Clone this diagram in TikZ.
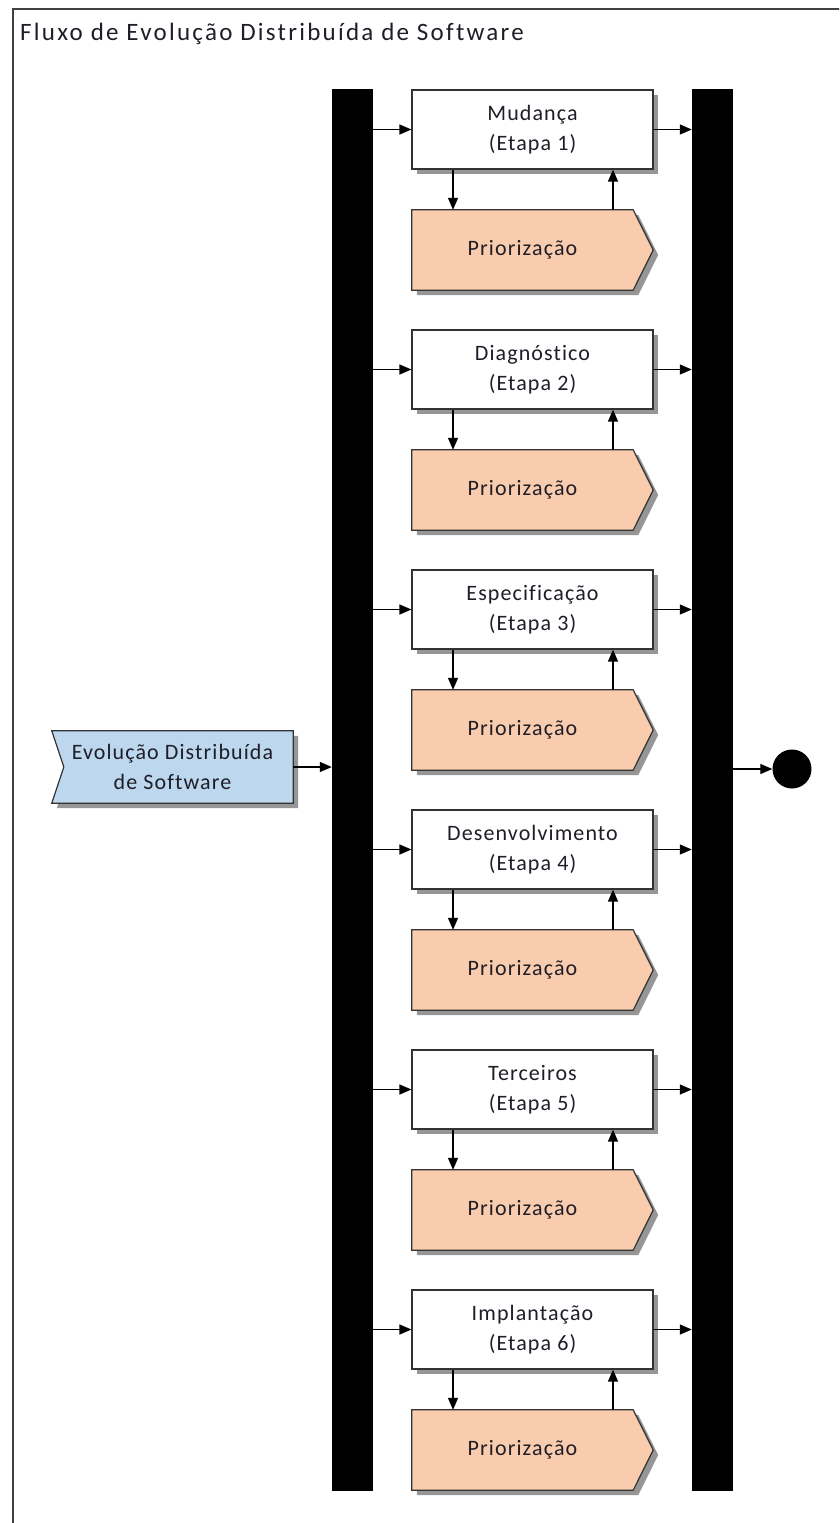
\documentclass[tikz,border=0pt]{standalone}
\usepackage{fontspec}
\setmainfont{Carlito}[Ligatures=NoCommon]
\newfontfamily\titlefont{Carlito}[LetterSpace=9,Ligatures=NoCommon]
\newfontfamily\boxfont{Carlito}[LetterSpace=5,Ligatures=NoCommon]
\usetikzlibrary{arrows.meta,backgrounds,shadows}
\definecolor{prioC}{RGB}{248,204,173}
\definecolor{inpC}{RGB}{189,215,238}
\definecolor{edgeC}{RGB}{50,50,50}
\definecolor{shadC}{RGB}{150,150,150}
\definecolor{txtC}{RGB}{30,30,40}
\begin{document}
\begin{tikzpicture}[x=1pt,y=-1pt,
  arr/.style={line width=1.3pt, black, -{Triangle[length=12pt,width=10pt]}},
  bar/.style={fill=black, draw=none, minimum width=41pt, minimum height=1402pt, inner sep=0pt},
  txt/.style={text=txtC, font=\boxfont\fontsize{22}{30}\selectfont},
  box/.style={txt, draw=edgeC, line width=1.2pt, fill=white, minimum width=241pt, minimum height=79pt,
    inner sep=0pt, align=center,
    drop shadow={shadow xshift=5pt, shadow yshift=-5pt, fill=shadC, opacity=1}},
  prio/.style={txt, minimum width=221pt, minimum height=80pt, inner sep=0pt},
  inp/.style={txt, minimum width=241pt, minimum height=72pt, inner sep=0pt, align=center},
  shapeline/.style={draw=edgeC, line width=1.2pt},
]
\useasboundingbox (0,0) rectangle (839,1523);
\clip (0,0) rectangle (839,1523);
\draw[line width=1.6pt, black!75] (13,9) rectangle (870,1560);
\node[anchor=base west, text=txtC, font=\titlefont\fontsize{25}{28}\selectfont, inner sep=0pt] (title) at (20,40) {Fluxo de Evolução Distribuída de Software};

\node[bar] (L) at (352.5,790) {};
\node[bar] (R) at (712.5,790) {};

\foreach \n [count=\i] in {Mudança,Diagnóstico,Especificação,Desenvolvimento,Terceiros,Implantação}{
  \pgfmathsetmacro\yb{129.5+240*(\i-1)}
  \pgfmathsetmacro\yp{250+240*(\i-1)}
  \node[box] (b\i) at (532.5,\yb) {\n\\(Etapa~\i)};
  \node[prio] (p\i) at (522.5,\yp) {Priorização};
  \begin{pgfonlayer}{background}
    \fill[shadC] ([shift={(5pt,-5pt)}]p\i.north west) -- ([shift={(5pt,-5pt)}]p\i.north east) -- ([shift={(25pt,-5pt)}]p\i.east) -- ([shift={(5pt,-5pt)}]p\i.south east) -- ([shift={(5pt,-5pt)}]p\i.south west) -- cycle;
    \path[shapeline, fill=prioC] (p\i.north west) -- (p\i.north east) -- ([xshift=20pt]p\i.east) -- (p\i.south east) -- (p\i.south west) -- cycle;
  \end{pgfonlayer}
  \draw[arr] (L.east |- b\i.west) -- (b\i.west);
  \draw[arr] (b\i.east) -- (R.west |- b\i.east);
  \draw[arr] ([xshift=-79.5pt]b\i.south) -- ([xshift=-69.5pt]p\i.north);
  \draw[arr] ([xshift=90.5pt]p\i.north) -- ([xshift=80.5pt]b\i.south);
}

\node[inp] (in) at (172.5,767) {Evolução Distribuída\\de Software};
\begin{pgfonlayer}{background}
  \fill[shadC] ([shift={(5pt,-5pt)}]in.north west) -- ([shift={(5pt,-5pt)}]in.north east) -- ([shift={(5pt,-5pt)}]in.south east) -- ([shift={(5pt,-5pt)}]in.south west) -- ([shift={(17pt,-5pt)}]in.west) -- cycle;
  \path[shapeline, fill=inpC] (in.north west) -- (in.north east) -- (in.south east) -- (in.south west) -- ([xshift=12pt]in.west) -- cycle;
\end{pgfonlayer}
\draw[arr] (in.east) -- (L.west |- in.east);

\node[circle, fill=black, minimum size=39pt, inner sep=0pt] (end) at (792,769) {};
\draw[arr] (R.east |- end.west) -- (end.west);
\end{tikzpicture}
\end{document}
